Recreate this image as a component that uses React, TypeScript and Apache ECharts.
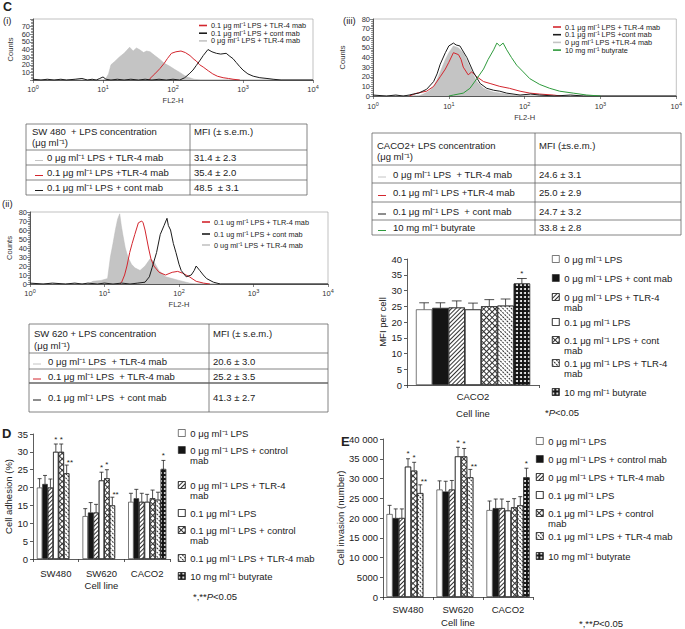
import React, { useEffect, useRef } from 'react';
import * as echarts from 'echarts';

const FONT = '"Liberation Sans", Arial, Helvetica, sans-serif';
const RED = '#d3262e';
const BLACK = '#1c1c1c';
const GRAY = '#c4c4c4';
const GREEN = '#2e9a3c';
const LH = 11;

// ---------- Histogram (i) SW480 : [FL2-H, counts] ----------
const histIGray = [[1, 0], [10, 0], [11, 2], [12, 8], [13, 20], [15, 25], [17, 30], [20, 35], [24, 43], [27, 38], [30, 42], [33, 40], [38, 36], [42, 38], [47, 37], [55, 32], [65, 27], [75, 22], [90, 18], [105, 14], [125, 10], [145, 6], [160, 4], [200, 1], [250, 0], [10000, 0]];
const histIRed = [[45, 0], [47, 2], [55, 8], [65, 15], [75, 22], [83, 28], [95, 35], [110, 37], [130, 38], [150, 36], [175, 32], [200, 27], [215, 25], [240, 20], [270, 17], [320, 12], [370, 8], [430, 5], [520, 3], [620, 2], [720, 1], [900, 0]];
const histIBlack = [[1, 1], [1.3, 0], [1.6, 1], [2, 0], [2.5, 1], [3, 0], [4, 1], [5, 2], [6, 0], [7, 1], [8, 0], [9, 2], [10, 4], [11, 1], [13, 0], [16, 1], [20, 0], [25, 1], [32, 0], [40, 1], [50, 0], [63, 1], [80, 0], [100, 1], [125, 0], [147, 3], [170, 8], [193, 13], [215, 19], [240, 25], [270, 32], [316, 40], [360, 37], [417, 35], [480, 34], [575, 35], [650, 31], [720, 28], [800, 23], [890, 18], [1000, 13], [1175, 8], [1400, 5], [1740, 3], [2200, 2], [2690, 1], [3500, 0], [10000, 0]];
const histILegend = ['0.1 μg ml⁻¹ LPS + TLR-4 mab', '0.1 μg ml⁻¹ LPS + cont mab', '0 μg ml⁻¹ LPS + TLR-4 mab'];

// ---------- Histogram (ii) SW620 ----------
const histIIGray = [[1, 0], [6, 0], [7, 3], [9, 4], [11, 6], [12, 30], [13, 45], [14, 60], [15, 72], [16, 78], [16.8, 65], [17.6, 55], [19, 40], [20.6, 30], [23, 22], [25.5, 18], [30, 15], [35, 20], [41, 28], [46, 25], [53.6, 15], [66, 8], [81, 6], [100, 4], [138, 1], [170, 0], [10000, 0]];
const histIIRed = [[16, 0], [17, 2], [18.6, 10], [20, 20], [21.8, 35], [23.5, 45], [25.5, 55], [28.5, 68], [31.6, 70], [33, 68], [35, 60], [39, 40], [42, 28], [46, 20], [54, 13], [66, 10], [81, 13], [96, 14], [112, 12], [138, 8], [170, 3], [213, 1], [260, 0]];
const histIIBlack = [[1, 1], [1.5, 0], [2, 1], [3, 0], [4, 1], [5, 0], [6, 1], [8, 0], [10, 1], [13, 0], [17, 1], [22, 0], [28, 1], [35, 2], [40, 8], [43.5, 18], [50, 35], [56, 55], [63, 65], [69, 73], [72, 65], [77, 60], [84, 45], [91, 35], [100, 22], [107, 15], [125, 8], [146, 10], [160, 15], [170, 20], [190, 15], [212, 10], [235, 6], [290, 2], [360, 0], [10000, 0]];
const histIILegend = ['0.1 ug ml⁻¹ LPS + TLR-4 mab', '0.1 ug ml⁻¹ LPS + cont mab', '0 ug ml⁻¹ LPS + TLR-4 mab'];

// ---------- Histogram (iii) CACO2 ----------
const histIIIGray = [[1, 0], [4, 0], [4.6, 2], [5.5, 5], [6.3, 10], [7, 17], [7.7, 25], [9, 38], [10, 45], [11.5, 52], [13.4, 50], [15.5, 45], [17, 38], [19, 30], [21, 22], [23.4, 15], [28.7, 8], [33, 6], [39, 4], [58, 2], [87, 0], [10000, 0]];
const histIIIBlack = [[1, 1], [1.5, 0], [2, 1], [2.5, 0], [3, 1], [3.4, 2], [4, 3], [5.1, 7], [6.3, 15], [7, 23], [7.7, 33], [9, 45], [10, 52], [11.5, 55], [12.5, 53], [14, 52], [17.3, 40], [21, 25], [25.9, 13], [31.6, 8], [39, 6], [47, 5], [58, 3], [87, 1], [120, 2], [158, 1], [250, 0], [400, 1], [600, 0], [10000, 0]];
const histIIIRed = [[3, 0], [3.8, 3], [5.1, 5], [6.3, 10], [7.7, 20], [9, 28], [10, 35], [11.5, 45], [13.4, 43], [14.5, 38], [15.5, 30], [18, 22], [20, 25], [23.4, 20], [28.7, 15], [35, 13], [47, 10], [63, 8], [87, 5], [117, 3], [158, 2], [239, 1], [300, 0]];
const histIIIGreen = [[10, 0], [11.5, 1], [15.5, 3], [19, 8], [23.4, 18], [28.7, 28], [33, 38], [39, 48], [43, 55], [47, 52], [52, 55], [58, 48], [67, 40], [78.5, 32], [96, 25], [117, 18], [158, 12], [214, 8], [290, 5], [437, 3], [660, 1], [1000, 0]];
const histIIILegend = ['0.1 μg ml⁻¹ LPS + TLR-4 mab', '0.1 μg ml⁻¹ LPS +cont mab', '0 μg ml⁻¹ LPS +TLR-4 mab', '10 mg ml⁻¹ butyrate'];

// ---------- Tables ----------
const tableIHeader = ['SW 480  + LPS concentration', '(μg ml⁻¹)'];
const tableIMfiHeader = 'MFI (± s.e.m.)';
const tableIRows = ['0 μg ml⁻¹ LPS + TLR-4 mab', '0.1 μg ml⁻¹ LPS +TLR-4 mab', '0.1 μg ml⁻¹ LPS + cont mab'];
const tableIMfi = ['31.4 ± 2.3', '35.4 ± 2.0', '48.5  ± 3.1'];

const tableIIHeader = ['SW 620 + LPS concentration', '(μg ml⁻¹)'];
const tableIIMfiHeader = 'MFI (± s.e.m.)';
const tableIIRows = ['0 μg ml⁻¹ LPS  + TLR-4 mab', '0.1 μg ml⁻¹ LPS  + TLR-4 mab', '0.1 μg ml⁻¹ LPS  + cont mab'];
const tableIIMfi = ['20.6 ± 3.0', '25.2 ± 3.5', '41.3 ± 2.7'];

const tableIIIHeader = ['CACO2+ LPS concentration', '(μg ml⁻¹)'];
const tableIIIMfiHeader = 'MFI (±s.e.m.)';
const tableIIIRows = ['0 μg ml⁻¹ LPS  + TLR-4 mab', '0.1 μg ml⁻¹ LPS +TLR-4 mab', '0.1 μg ml⁻¹ LPS  + cont mab', '10 mg ml⁻¹ butyrate'];
const tableIIIMfi = ['24.6 ± 3.1', '25.0 ± 2.9', '24.7 ± 3.2', '33.8 ± 2.8'];

// ---------- MFI per cell (CACO2) ----------
const mfiCategories = ['CACO2'];
const mfiValues = [[24.0], [24.5], [24.6], [24.0], [25.0], [25.2], [32.2]];
const mfiErrors = [[2.1], [1.6], [2.1], [2.0], [2.1], [2.1], [1.6]];
const mfiStars = [[''], [''], [''], [''], [''], [''], ['*']];
const mfiLegend = ['0 μg ml⁻¹ LPS', '0 μg ml⁻¹ LPS + cont mab', '0 μg ml⁻¹ LPS + TLR-4\nmab', '0.1 μg ml⁻¹ LPS', '0.1 μg ml⁻¹ LPS + cont\nmab', '0.1 μg ml⁻¹ LPS + TLR-4\nmab', '10 mg ml⁻¹ butyrate'];

// ---------- D: Cell adhesion ----------
const cellLines = ['SW480', 'SW620', 'CACO2'];
const adhValues = [[20, 12, 16], [21, 13, 17], [20, 13, 16], [30, 22, 16], [30, 22.6, 17], [24, 15, 16.6], [null, null, 25.2]];
const adhErrors = [[2.5, 2.1, 2.4], [2.4, 2.8, 2.5], [2.4, 2.3, 2.4], [2.2, 2.3, 2.1], [2.2, 2.4, 2.3], [2.3, 2.3, 2.1], [null, null, 2.4]];
const adhStars = [['', '', ''], ['', '', ''], ['', '', ''], ['*', '*', ''], ['*', '*', ''], ['**', '**', ''], ['', '', '*']];
const adhLegend = ['0 μg ml⁻¹ LPS', '0 μg ml⁻¹ LPS + control\nmab', '0 μg ml⁻¹ LPS + TLR-4\nmab', '0.1 μg ml⁻¹ LPS', '0.1 μg ml⁻¹ LPS + control\nmab', '0.1 μg ml⁻¹ LPS + TLR-4 mab', '10 mg ml⁻¹ butyrate'];

// ---------- E: Cell invasion ----------
const invValues = [[21000, 27200, 22000], [20000, 26700, 22500], [20000, 27200, 22500], [33000, 35600, 21900], [32000, 35600, 22700], [26300, 30300, 23200], [null, null, 30300]];
const invErrors = [[2200, 2200, 2300], [2300, 2600, 2300], [2300, 2300, 2300], [2000, 2300, 2300], [2100, 2000, 2200], [2100, 2000, 2200], [null, null, 2300]];
const invStars = [['', '', ''], ['', '', ''], ['', '', ''], ['*', '*', ''], ['*', '*', ''], ['**', '**', ''], ['', '', '*']];
const invLegend = ['0 μg ml⁻¹ LPS', '0 μg ml⁻¹ LPS + control mab', '0 μg ml⁻¹ LPS + TLR-4 mab', '0.1 μg ml⁻¹ LPS', '0.1 μg ml⁻¹ LPS + control\nmab', '0.1 μg ml⁻¹ LPS + TLR-4 mab', '10 mg ml⁻¹ butyrate'];

const PATTERNS: any[] = [
  { color: '#ffffff' },
  { color: '#151515' },
  { color: '#ffffff', decal: { symbol: 'rect', symbolSize: 1, dashArrayX: [1, 0], dashArrayY: [1, 2], rotation: -Math.PI / 4, color: '#333333' } },
  { color: '#ffffff', decal: { symbol: 'circle', symbolSize: 1, dashArrayX: [1, 3], dashArrayY: [1, 3], rotation: 0, color: '#555555' } },
  { color: '#ffffff', decal: { symbol: 'rect', symbolSize: 1, dashArrayX: [[4, 0], [1, 3]], dashArrayY: [1, 0, 3, 0], rotation: Math.PI / 4, color: '#333333' } },
  { color: '#ffffff', decal: { symbol: 'rect', symbolSize: 1, dashArrayX: [2, 1], dashArrayY: [1, 2], rotation: Math.PI / 4, color: '#333333' } },
  { color: '#151515', decal: { symbol: 'circle', symbolSize: 1, dashArrayX: [2, 2], dashArrayY: [2, 2], color: '#ffffff' } },
];

const txt = (x: number, y: number, text: string, size: number, extra: any = {}) => ({
  type: 'text', silent: true, x, y,
  style: { text, fontSize: size, fontFamily: FONT, fill: '#222', align: 'left', verticalAlign: 'middle', ...extra },
});
const ln = (x1: number, y1: number, x2: number, y2: number, color = '#666', w = 0.8) => ({
  type: 'line', silent: true, shape: { x1, y1, x2, y2 }, style: { stroke: color, lineWidth: w },
});

function tableEls(c: any) {
  const els: any[] = [];
  const ys = c.ys;
  els.push({ type: 'rect', silent: true, shape: { x: c.x0, y: ys[0], width: c.x1 - c.x0, height: ys[ys.length - 1] - ys[0] }, style: { fill: 'none', stroke: '#666', lineWidth: 0.8 } });
  for (let i = 1; i < ys.length - 1; i++) els.push(ln(c.x0, ys[i], c.x1, ys[i], '#666', c.thick === i ? 1.6 : 0.8));
  els.push(ln(c.xd, ys[0], c.xd, ys[ys.length - 1]));
  els.push(txt(c.hx, c.headY[0], c.head[0], 9.5));
  els.push(txt(c.hx, c.headY[1], c.head[1], 9.5));
  els.push(txt(c.mx, c.headY[0], c.mfiHead, 9.5));
  c.rows.forEach((r: string, i: number) => {
    const y = c.rowY[i];
    els.push(ln(c.mkx, y + 3, c.mkx + 8, y + 3, c.colors[i], 1));
    els.push(txt(c.tx, y, r, 9.5));
    els.push(txt(c.mx, y, c.mfi[i], 9.5));
  });
  return els;
}

function histLegendEls(labels: string[], colors: string[], lx: number, ys: number[]) {
  const els: any[] = [];
  labels.forEach((l, i) => {
    els.push(ln(lx, ys[i], lx + 8, ys[i], colors[i], 1.6));
    els.push(txt(lx + 12, ys[i], l, 7.3, { lineHeight: 7 }));
  });
  return els;
}

const supFmt = (v: number) => '10{s|' + Math.round(Math.log10(v)) + '}';

function logX(gi: number, margin: number, nameGap: number) {
  return {
    type: 'log', logBase: 10, min: 1, max: 10000, gridIndex: gi,
    axisLine: { lineStyle: { color: '#333', width: 0.8 } },
    axisTick: { length: 3, lineStyle: { color: '#333', width: 0.6 } },
    axisLabel: {
      formatter: supFmt, fontSize: 7.5, fontFamily: FONT, color: '#333', margin, showMinLabel: true, showMaxLabel: true,
      rich: { s: { fontSize: 5.5, fontFamily: FONT, color: '#333', padding: [0, 0, 5, 0] } },
    },
    splitLine: { show: false },
    name: 'FL2-H', nameLocation: 'middle', nameGap, nameTextStyle: { fontSize: 7.5, fontFamily: FONT, color: '#333' },
  };
}
function histY(gi: number, nameGap: number) {
  return {
    type: 'value', min: 0, max: 80, interval: 10, gridIndex: gi,
    axisLine: { show: true, lineStyle: { color: '#333', width: 0.8 } },
    axisTick: { show: true, length: 3, lineStyle: { color: '#333', width: 0.6 } },
    minorTick: { show: true, splitNumber: 5, length: 2, lineStyle: { color: '#333', width: 0.5 } },
    axisLabel: { fontSize: 7.5, fontFamily: FONT, color: '#333', margin: 3 },
    splitLine: { show: false },
    name: 'Counts', nameLocation: 'middle', nameGap, nameRotate: 90, nameTextStyle: { fontSize: 7.5, fontFamily: FONT, color: '#333' },
  };
}
function histSeries(xi: number, gray: number[][], lines: { data: number[][]; color: string }[]) {
  const out: any[] = [{
    type: 'line', xAxisIndex: xi, yAxisIndex: xi, data: gray, showSymbol: false, silent: true,
    lineStyle: { width: 0.5, color: '#bbbbbb' }, areaStyle: { color: GRAY, opacity: 1 }, z: 1,
  }];
  lines.forEach((l) => out.push({
    type: 'line', xAxisIndex: xi, yAxisIndex: xi, data: l.data, showSymbol: false, silent: true,
    lineStyle: { width: 1, color: l.color }, z: 3,
  }));
  return out;
}

function catX(gi: number, data: string[], margin: number, nameGap: number) {
  return {
    type: 'category', data, gridIndex: gi,
    axisLine: { lineStyle: { color: '#333', width: 0.8 } },
    axisTick: { show: true, length: 3, alignWithLabel: false, lineStyle: { color: '#333', width: 0.8 } },
    axisLabel: { fontSize: 9.5, fontFamily: FONT, color: '#222', margin },
    name: 'Cell line', nameLocation: 'middle', nameGap, nameTextStyle: { fontSize: 9.5, fontFamily: FONT, color: '#222' },
  };
}
function barY(gi: number, max: number, interval: number, name: string, nameGap: number, fmt?: any) {
  return {
    type: 'value', min: 0, max, interval, gridIndex: gi,
    axisLine: { show: true, lineStyle: { color: '#333', width: 0.8 } },
    axisTick: { show: true, length: 3, lineStyle: { color: '#333', width: 0.8 } },
    axisLabel: { fontSize: 9.5, fontFamily: FONT, color: '#222', margin: 5, formatter: fmt },
    splitLine: { show: false },
    name, nameLocation: 'middle', nameGap, nameRotate: 90, nameTextStyle: { fontSize: 9.5, fontFamily: FONT, color: '#222' },
  };
}

function barSeries(prefix: string, xi: number, vals: any[][], gapPct: number) {
  return vals.map((arr, s) => ({
    type: 'bar', name: prefix + s, xAxisIndex: xi, yAxisIndex: xi, data: arr,
    barGap: '0%', barCategoryGap: gapPct + '%', silent: true,
    itemStyle: { ...PATTERNS[s], borderColor: '#222', borderWidth: 0.6 },
  }));
}

function errSeries(xi: number, vals: any[][], errs: any[][], stars: string[][], gapPct: number) {
  const data: number[][] = [];
  const starList: string[] = [];
  const n = vals.length;
  vals.forEach((arr, s) => arr.forEach((v: any, c: number) => {
    if (v != null) { data.push([c, s, v, errs[s][c]]); starList.push(stars[s][c]); }
  }));
  return {
    type: 'custom', xAxisIndex: xi, yAxisIndex: xi, data, encode: { x: 0, y: 2 }, silent: true, z: 5,
    renderItem: (params: any, api: any) => {
      const c = api.value(0), s = api.value(1), v = api.value(2), e = api.value(3);
      const p = api.coord([c, v]);
      const t = api.coord([c, v + e]);
      const band = api.size([1, 0])[0];
      const gw = band * (1 - gapPct / 100);
      const bw = gw / n;
      const x = p[0] - gw / 2 + bw * (s + 0.5);
      const cap = Math.max(2, bw * 0.3);
      const st = { stroke: '#222', lineWidth: 0.8 };
      const children: any[] = [
        { type: 'line', shape: { x1: x, y1: p[1], x2: x, y2: t[1] }, style: st },
        { type: 'line', shape: { x1: x - cap, y1: t[1], x2: x + cap, y2: t[1] }, style: st },
      ];
      const star = starList[params.dataIndex];
      if (star) {
        const dx = star === '**' ? bw * 0.6 : 0;
        children.push({ type: 'text', style: { text: star, x: x + dx, y: t[1] + (star === '**' ? 1 : -1), align: 'center', verticalAlign: 'bottom', fontSize: 8, fontFamily: FONT, fill: '#222' } });
      }
      return { type: 'group', children };
    },
  };
}

// legend: one component per entry so that each sits where the reference has it;
// a wrapped second line is drawn as a graphic text under the first line.
function legendItems(prefix: string, labels: string[], left: number, ys: number[], extra: any[]) {
  return labels.map((lab, i) => {
    const parts = lab.split('\n');
    if (parts.length > 1) extra.push(txt(left + 12, ys[i] + 10.5, parts[1], 9.5, { lineHeight: 10 }));
    return {
      left, top: ys[i] - 5,
      orient: 'vertical', padding: 0, itemGap: 0, itemWidth: 7, itemHeight: 7, selectedMode: false, icon: 'rect',
      data: [prefix + i],
      formatter: () => parts[0],
      textStyle: { fontSize: 9.5, fontFamily: FONT, color: '#222', lineHeight: 10 },
      itemStyle: { borderColor: '#222', borderWidth: 0.6 },
    };
  });
}

function buildOption() {
  const grids = [
    { left: 33, top: 19, width: 280, height: 61, show: true, borderColor: '#999', borderWidth: 0.6 },
    { left: 30, top: 212, width: 298, height: 72, show: true, borderColor: '#999', borderWidth: 0.6 },
    { left: 373, top: 19, width: 304, height: 77, show: true, borderColor: '#999', borderWidth: 0.6 },
    { left: 407, top: 259, width: 132, height: 126 },
    { left: 33, top: 434, width: 137, height: 125 },
    { left: 383, top: 439, width: 150, height: 158 },
  ];
  const invFmt = (v: number) => (v >= 10000 ? Math.floor(v / 1000) + ' ' + String(v % 1000).padStart(3, '0') : String(v));
  const legendExtra: any[] = [];
  const legends = [
    ...legendItems('c', mfiLegend, 552, [259, 278, 297, 322, 340, 363, 392], legendExtra),
    ...legendItems('d', adhLegend, 178, [433, 450, 485, 513, 530, 558, 576], legendExtra),
    ...legendItems('e', invLegend, 536, [441, 459, 477, 495, 513, 536, 556], legendExtra),
  ];
  const italicP = { rich: { i: { fontStyle: 'italic', fontSize: 9.5, fontFamily: FONT } } };

  const graphics: any[] = [
    txt(3, 7, 'C', 12.5, { fontWeight: 'bold' }),
    txt(3, 20, '(i)', 9.5),
    txt(2, 203, '(ii)', 9.5),
    txt(343, 20, '(iii)', 9.5),
    txt(2, 433, 'D', 13, { fontWeight: 'bold' }),
    txt(341, 441, 'E', 13, { fontWeight: 'bold' }),
    ...histLegendEls(histILegend, [RED, BLACK, GRAY], 199, [25.5, 33.2, 40.9]),
    ...histLegendEls(histIILegend, [RED, BLACK, GRAY], 202, [222, 234, 245]),
    ...histLegendEls(histIIILegend, [RED, BLACK, GRAY, GREEN], 553, [27, 34.7, 42.4, 50.1]),
    ...tableEls({ x0: 26, x1: 307, xd: 190, ys: [124, 150, 165, 180, 195], head: tableIHeader, headY: [131, 142], mfiHead: tableIMfiHeader, rows: tableIRows, rowY: [157.5, 172.5, 187.5], mfi: tableIMfi, colors: [GRAY, RED, BLACK], hx: 32, mx: 194, mkx: 35, tx: 47 }),
    ...tableEls({ x0: 29, x1: 328, xd: 209, ys: [324, 353, 369, 383, 412], head: tableIIHeader, headY: [333, 345], mfiHead: tableIIMfiHeader, rows: tableIIRows, rowY: [361, 376, 397], mfi: tableIIMfi, colors: [GRAY, RED, BLACK], hx: 34, mx: 213, mkx: 33, tx: 48, thick: 3 }),
    ...tableEls({ x0: 372, x1: 681, xd: 535, ys: [133, 165, 183, 202, 220, 235], head: tableIIIHeader, headY: [145, 156], mfiHead: tableIIIMfiHeader, rows: tableIIIRows, rowY: [174, 192.5, 211, 227.5], mfi: tableIIIMfi, colors: [GRAY, RED, BLACK, GREEN], hx: 377, mx: 539, mkx: 378, tx: 393 }),
    txt(545, 412, '*{i|P}<0.05', 9.5, italicP),
    txt(193, 596, '*,**{i|P}<0.05', 9.5, italicP),
    txt(579, 623, '*,**{i|P}<0.05', 9.5, italicP),
    ...legendExtra,
  ];

  return {
    animation: false,
    backgroundColor: '#ffffff',
    textStyle: { fontFamily: FONT },
    grid: grids,
    xAxis: [
      logX(0, 4, 16), logX(1, 4, 16), logX(2, 5, 17),
      catX(3, mfiCategories, 6, 23),
      catX(4, cellLines, 9, 21),
      catX(5, cellLines, 7, 20),
    ],
    yAxis: [
      histY(0, 19), histY(1, 17), histY(2, 27),
      barY(3, 40, 5, 'MFI per cell', 20),
      barY(4, 35, 5, 'Cell adhesion (%)', 18),
      barY(5, 40000, 5000, 'Cell invasion (number)', 30, invFmt),
    ],
    legend: legends,
    series: [
      ...histSeries(0, histIGray, [{ data: histIRed, color: RED }, { data: histIBlack, color: BLACK }]),
      ...histSeries(1, histIIGray, [{ data: histIIRed, color: RED }, { data: histIIBlack, color: BLACK }]),
      ...histSeries(2, histIIIGray, [{ data: histIIIRed, color: RED }, { data: histIIIBlack, color: BLACK }, { data: histIIIGreen, color: GREEN }]),
      ...barSeries('c', 3, mfiValues, 13.6),
      errSeries(3, mfiValues, mfiErrors, mfiStars, 13.6),
      ...barSeries('d', 4, adhValues, 17),
      errSeries(4, adhValues, adhErrors, adhStars, 17),
      ...barSeries('e', 5, invValues, 14),
      errSeries(5, invValues, invErrors, invStars, 14),
    ],
    graphic: graphics,
  };
}

export default function App() {
  const ref = useRef<HTMLDivElement>(null);
  useEffect(() => {
    const chart = echarts.init(ref.current as HTMLDivElement, undefined, { renderer: 'svg' });
    chart.setOption(buildOption() as any);
    return () => chart.dispose();
  }, []);
  return <div ref={ref} style={{ position: 'fixed', left: 0, top: 0, width: 685, height: 629, background: '#fff' }} />;
}
